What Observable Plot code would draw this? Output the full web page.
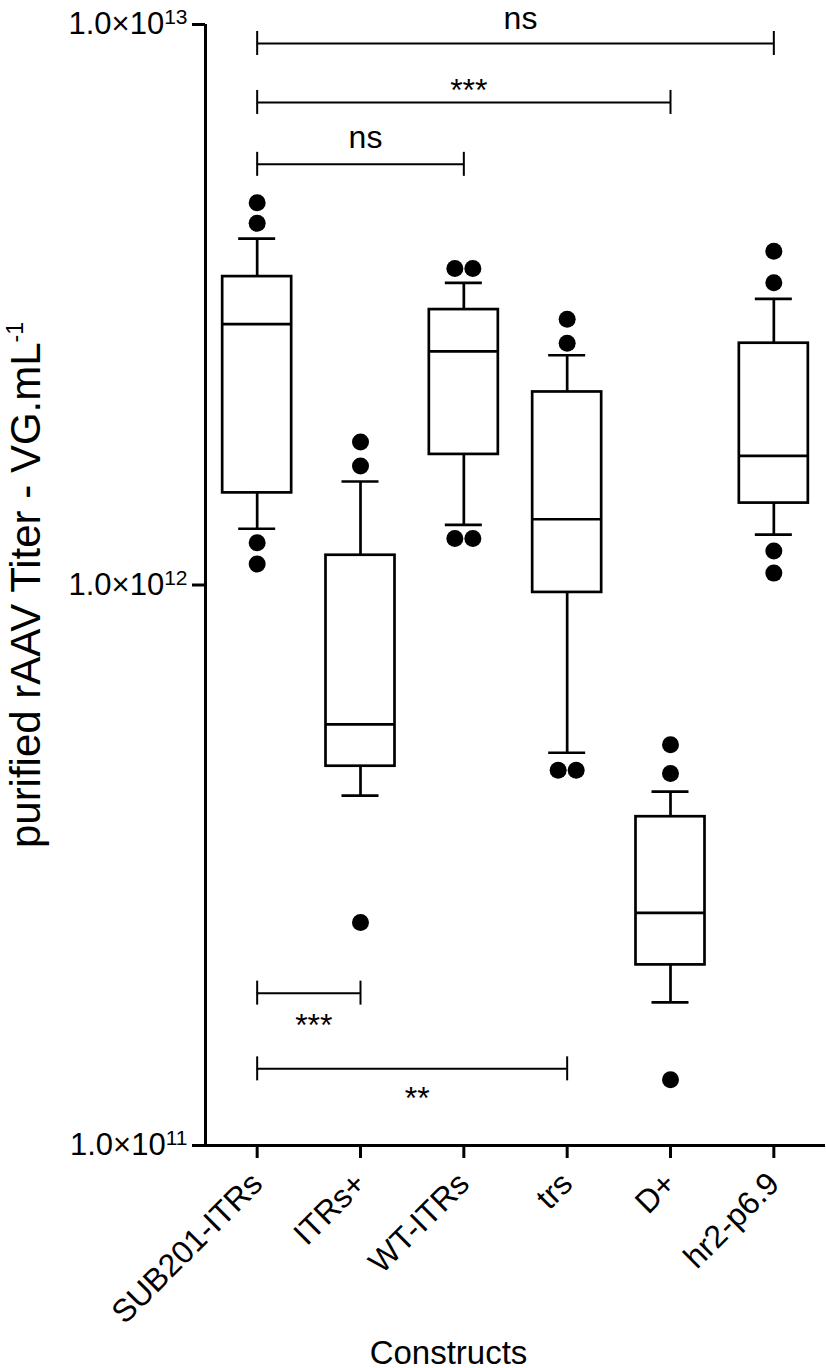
<!DOCTYPE html>
<html>
<head>
<meta charset="utf-8">
<script src="https://cdn.jsdelivr.net/npm/d3@7"></script>
<script src="https://cdn.jsdelivr.net/npm/@observablehq/plot@0.6"></script>
<style>
  html, body { margin: 0; padding: 0; background: #fff; }
  #chart svg { display: block; }
</style>
</head>
<body>
<div id="chart"></div>
<script>
// ---- data ----
const constructs   = ["SUB201-ITRs", "ITRs+", "WT-ITRs", "trs", "D+", "hr2-p6.9"];
const whiskerLow   = [1.26e12, 4.21e11, 1.28e12, 5.02e11, 1.80e11, 1.23e12];
const q1           = [1.46e12, 4.75e11, 1.71e12, 9.70e11, 2.10e11, 1.40e12];
const median       = [2.92e12, 5.64e11, 2.61e12, 1.31e12, 2.60e11, 1.70e12];
const q3           = [3.55e12, 1.13e12, 3.10e12, 2.21e12, 3.86e11, 2.70e12];
const whiskerHigh  = [4.15e12, 1.53e12, 3.46e12, 2.57e12, 4.28e11, 3.24e12];
const outlierValues = [
  [4.81e12, 4.42e12, 1.19e12, 1.09e12],
  [1.80e12, 1.63e12, 2.50e11],
  [3.67e12, 3.67e12, 1.21e12, 1.21e12],
  [2.98e12, 2.70e12, 4.67e11, 4.67e11],
  [5.19e11, 4.61e11, 1.31e11],
  [3.94e12, 3.46e12, 1.15e12, 1.05e12]
];
// significance brackets
const bracketFrom  = ["SUB201-ITRs", "SUB201-ITRs", "SUB201-ITRs", "SUB201-ITRs", "SUB201-ITRs"];
const bracketTo    = ["hr2-p6.9", "D+", "WT-ITRs", "ITRs+", "trs"];
const bracketLevel = [9.25e12, 7.26e12, 5.63e12, 1.87e11, 1.37e11];
const bracketLabel = ["ns", "***", "ns", "***", "**"];
const labelLevel   = [9.8e12, 7.29e12, 6.01e12, 1.57e11, 1.16e11];

const yTicks = [1e11, 1e12, 1e13];
const yDomain = [1e11, 1e13];
const xDomain = [-0.5, constructs.length - 0.5];
const yTitle = "purified rAAV Titer - VG.mL";
const yTitleExp = "-1";
const xTitle = "Constructs";

// ---- tables built from the arrays ----
const idx = name => constructs.indexOf(name);
const stats = constructs.map((name, i) => ({
  name, i, lo: whiskerLow[i], q1: q1[i], med: median[i], q3: q3[i], hi: whiskerHigh[i]
}));
const singles = [], pairs = [];
outlierValues.forEach((vals, i) => {
  const counts = d3.rollup(vals, v => v.length, v => v);
  for (const [v, n] of counts) (n > 1 ? pairs : singles).push({i, v});
});
const brackets = bracketFrom.map((f, k) => ({
  a: idx(f), b: idx(bracketTo[k]), level: bracketLevel[k],
  label: bracketLabel[k], labelLevel: labelLevel[k]
}));
const bracketEnds = brackets.flatMap(d => [{x: d.a, level: d.level}, {x: d.b, level: d.level}]);

const BOX_HALF = 34.5, CAP_HALF = 18.5, LW = 2.7, R = 8.5;

const svg = Plot.plot({
  width: 826,
  height: 1368,
  marginLeft: 205,
  marginRight: 1,
  marginTop: 24,
  marginBottom: 223,
  style: {fontFamily: "'Liberation Sans', Arial, Helvetica, sans-serif", background: "#fff", color: "#000", overflow: "visible"},
  x: {domain: xDomain},
  y: {type: "log", domain: yDomain},
  marks: [
    // axes
    Plot.axisY({ticks: yTicks, tickFormat: d => "1.0×10^" + Math.round(Math.log10(d)),
      tickSize: 13, tickPadding: 5, fontSize: 31, strokeWidth: 3, label: null}),
    Plot.axisX({ticks: d3.range(constructs.length), tickFormat: i => constructs[i],
      tickRotate: -45, tickSize: 13, tickPadding: 20, fontSize: 32, strokeWidth: 3, label: null}),
    Plot.ruleX([xDomain[0]], {strokeWidth: 3}),
    Plot.ruleY([yDomain[0]], {strokeWidth: 3}),
    // whiskers
    Plot.ruleX(stats, {x: "i", y1: "q3", y2: "hi", strokeWidth: LW}),
    Plot.ruleX(stats, {x: "i", y1: "lo", y2: "q1", strokeWidth: LW}),
    Plot.ruleY(stats, {y: "hi", x1: "i", x2: "i", insetLeft: -CAP_HALF, insetRight: -CAP_HALF, strokeWidth: LW}),
    Plot.ruleY(stats, {y: "lo", x1: "i", x2: "i", insetLeft: -CAP_HALF, insetRight: -CAP_HALF, strokeWidth: LW}),
    // boxes
    Plot.rect(stats, {x1: "i", x2: "i", y1: "q1", y2: "q3", insetLeft: -BOX_HALF, insetRight: -BOX_HALF,
      fill: "none", stroke: "#000", strokeWidth: LW}),
    Plot.ruleY(stats, {y: "med", x1: "i", x2: "i", insetLeft: -BOX_HALF, insetRight: -BOX_HALF, strokeWidth: LW}),
    // outliers
    Plot.dot(singles, {x: "i", y: "v", r: R, fill: "#000"}),
    Plot.dot(pairs, {x: "i", y: "v", r: R, fill: "#000", dx: -9}),
    Plot.dot(pairs, {x: "i", y: "v", r: R, fill: "#000", dx: 9}),
    // significance brackets
    Plot.ruleY(brackets, {y: "level", x1: "a", x2: "b", strokeWidth: 2}),
    Plot.ruleX(bracketEnds, {x: "x", y1: "level", y2: "level", insetTop: -12, insetBottom: -12, strokeWidth: 2}),
    Plot.text(brackets, {x: d => (d.a + d.b) / 2, y: "labelLevel", text: "label", lineAnchor: "bottom",
      dx: 5, fontSize: 32, fill: "#000"}),
    // axis titles
    Plot.text([xTitle], {frameAnchor: "bottom", dx: -67, dy: 218, lineAnchor: "bottom", textAnchor: "middle", fontSize: 33, fill: "#000"}),
    Plot.text([yTitle], {frameAnchor: "left", rotate: -90, dx: -179, textAnchor: "middle", lineAnchor: "middle", fontSize: 42, fill: "#000"})
  ]
});

// superscripts as real text (tspans)
const NS = "http://www.w3.org/2000/svg";
svg.querySelectorAll("text").forEach(t => {
  const s = t.textContent;
  if (/^1\.0×10\^\d+$/.test(s)) {
    const [base, exp] = s.split("^");
    t.textContent = "";
    const a = document.createElementNS(NS, "tspan"); a.textContent = base; t.appendChild(a);
    const b = document.createElementNS(NS, "tspan");
    b.setAttribute("dy", "-10"); b.setAttribute("font-size", "21"); b.textContent = exp; t.appendChild(b);
  } else if (s === yTitle) {
    const b = document.createElementNS(NS, "tspan");
    b.setAttribute("dy", "-17"); b.setAttribute("font-size", "23"); b.textContent = yTitleExp;
    t.appendChild(b);
  }
});

document.getElementById("chart").appendChild(svg);
</script>
</body>
</html>
